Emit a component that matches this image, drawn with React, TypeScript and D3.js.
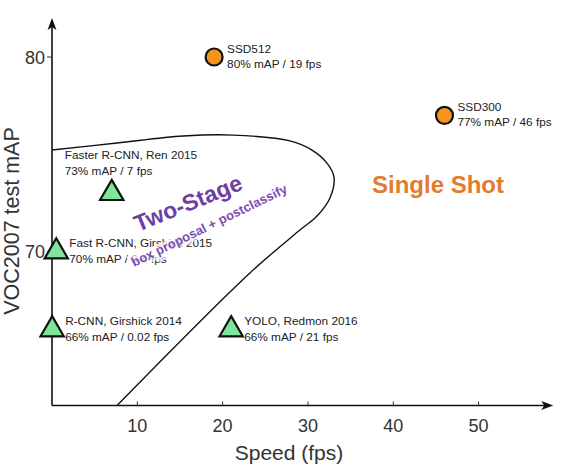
import React from "react";
import * as d3 from "d3";

// ---- data ----
const methods = ["SSD512", "SSD300", "Faster R-CNN, Ren 2015", "Fast R-CNN, Girshick 2015", "R-CNN, Girshick 2014", "YOLO, Redmon 2016"];
const details = ["80% mAP / 19 fps", "77% mAP / 46 fps", "73% mAP / 7 fps", "70% mAP / 0.4 fps", "66% mAP / 0.02 fps", "66% mAP / 21 fps"];
const speedFps = [19, 46, 7, 0.5, 0.02, 21];
const vocMap = [80, 77, 73, 70, 66, 66];
const detectorKind = ["single", "single", "two", "two", "two", "two"];

const xTicks = [10, 20, 30, 40, 50];
const yTicks = [70, 80];

// boundary of the two-stage region (fps, mAP)
const boundaryFps = [0, 7.62, 15.35, 21.21, 27.89, 30.47, 32.23, 33.05, 32.58, 31.06, 29.06, 23.2, 7.62];
const boundaryMap = [75.22, 75.58, 75.94, 75.99, 75.69, 75.22, 74.55, 73.83, 72.76, 71.83, 71.11, 68.91, 62.1];

const W = 585;
const H = 473;
const FONT = "'Liberation Sans', Arial, Helvetica, sans-serif";

export default function App() {
  const x = d3.scaleLinear().domain([0, 50]).range([52, 478.6]);
  const y = d3.scaleLinear().domain([70, 80]).range([251.7, 57]);
  const yBottom = 62.1;
  const yTop = 82;
  const xRight = 58.75;

  const x0 = x(0);
  const yb = y(yBottom);

  const curvePts: [number, number][] = boundaryFps.map((f, i) => [x(f), y(boundaryMap[i])]);
  const curvePath = d3.line().curve(d3.curveCatmullRom.alpha(0.5))(curvePts) || "";

  const tri = d3.symbol().type(d3.symbolTriangle).size(235)() || "";

  const yTipY = y(yTop);
  const xTipX = x(xRight);

  const labelOffset = (i: number) => {
    if (methods[i].startsWith("Faster")) return { dx: -47, dy1: -34, dy2: -18 };
    return { dx: 13, dy1: -4.5, dy2: 11 };
  };

  return (
    <svg width={W} height={H} style={{ position: "absolute", left: 0, top: 0, background: "#fff" }} fontFamily={FONT}>
      <rect width={W} height={H} fill="#fff" />

      {/* two-stage boundary */}
      <path d={curvePath} fill="none" stroke="#111" strokeWidth={1.4} />

      {/* axes */}
      <line x1={x0} y1={yb} x2={x0} y2={yTipY + 8} stroke="#111" strokeWidth={1.6} />
      <path d={`M${x0},${yTipY}L${x0 - 4.5},${yTipY + 12}L${x0},${yTipY + 9}L${x0 + 4.5},${yTipY + 12}Z`} fill="#111" />
      <line x1={x0} y1={yb} x2={xTipX - 8} y2={yb} stroke="#111" strokeWidth={1.6} />
      <path d={`M${xTipX},${yb}L${xTipX - 12},${yb - 4.5}L${xTipX - 9},${yb}L${xTipX - 12},${yb + 4.5}Z`} fill="#111" />

      {xTicks.map((t) => (
        <g key={"xt" + t}>
          <line x1={x(t)} x2={x(t)} y1={yb} y2={yb - 4} stroke="#333" strokeWidth={1} />
          <text x={x(t)} y={432} textAnchor="middle" fontSize={18} fill="#333">{t}</text>
        </g>
      ))}
      {yTicks.map((t) => (
        <g key={"yt" + t}>
          <line x1={x0 - 5} x2={x0} y1={y(t)} y2={y(t)} stroke="#333" strokeWidth={1} />
          <text x={45} y={y(t) + 6.5} textAnchor="end" fontSize={18} fill="#333">{t}</text>
        </g>
      ))}

      <text x={289} y={460} textAnchor="middle" fontSize={21} fill="#333">Speed (fps)</text>
      <text transform={`translate(19,221) rotate(-90)`} textAnchor="middle" fontSize={21.5} fill="#333">VOC2007 test mAP</text>

      {/* region labels */}
      <text x={372} y={193} fontSize={24} fontWeight="bold" fill="#E37B2C">Single Shot</text>

      {/* labels for methods */}
      {methods.map((m, i) => {
        const o = labelOffset(i);
        const px = x(speedFps[i]);
        const py = y(vocMap[i]);
        return (
          <g key={"lab" + i} fontSize={11.8} fill="#222">
            <text x={px + o.dx} y={py + o.dy1}>{m}</text>
            <text x={px + o.dx} y={py + o.dy2}>{details[i]}</text>
          </g>
        );
      })}

      <g transform="translate(188,203) rotate(-22)">
        <text x={0} y={8} textAnchor="middle" fontSize={23} fontWeight="bold" fill="#6E3FA3">Two-Stage</text>
      </g>
      <g transform="translate(209,225) rotate(-26)">
        <text x={0} y={5} textAnchor="middle" fontSize={13} fontWeight="bold" fill="#7E4DB5"
          stroke="#fff" strokeOpacity={0.65} strokeWidth={7} style={{ paintOrder: "stroke" }}>
          box proposal + postclassify
        </text>
      </g>

      {/* markers */}
      {methods.map((m, i) => {
        const px = x(speedFps[i]);
        const py = y(vocMap[i]);
        return detectorKind[i] === "single" && m.startsWith("SSD") ? (
          <circle key={"mk" + i} cx={px} cy={py} r={8.5} fill="#F7941D" stroke="#111" strokeWidth={2.2} />
        ) : (
          <path key={"mk" + i} d={tri} transform={`translate(${px},${py})`} fill="#7FE59B" stroke="#111" strokeWidth={2.2} />
        );
      })}
    </svg>
  );
}
